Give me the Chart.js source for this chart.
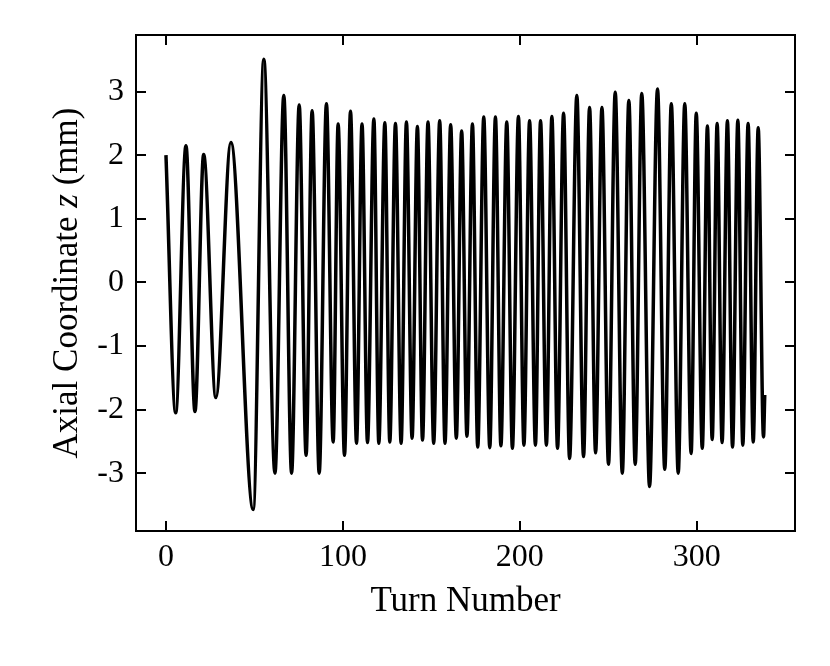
<!DOCTYPE html>
<html>
<head>
<meta charset="utf-8">
<script src="https://cdn.jsdelivr.net/npm/chart.js@4/dist/chart.umd.min.js"></script>
<style>
  html, body { margin: 0; padding: 0; background: #fff; }
</style>
</head>
<body>
<canvas id="orbit" width="830" height="666"></canvas>
<script>
// turning points of the axial oscillation: start, each peak / trough, end
const turns = [
  0, 5.5, 11.3, 16.4, 21.3, 28.2, 36.7, 49.3, 55.3, 61.6,
  66.6, 71.0, 75.3, 79.2, 82.6, 86.6, 90.7, 94.5, 97.3, 100.9,
  104.3, 107.7, 110.8, 113.9, 117.5, 120.3, 123.7, 126.5, 129.7, 132.9,
  135.9, 139.1, 142.1, 145.0, 148.1, 151.3, 154.7, 157.7, 160.9, 164.1,
  167.1, 170.1, 173.2, 176.2, 179.6, 183.0, 186.2, 189.3, 192.6, 195.8,
  199.2, 202.3, 205.5, 208.8, 211.7, 215.0, 218.1, 221.3, 224.7, 228.1,
  232.2, 236.0, 239.4, 242.8, 246.4, 250.1, 253.9, 257.9, 261.6, 265.2,
  268.9, 273.3, 277.8, 281.9, 285.6, 289.5, 293.2, 296.8, 299.7, 303.1,
  306.0, 308.7, 311.5, 314.3, 317.3, 320.2, 323.2, 326.0, 329.0, 331.9,
  334.7, 337.7, 338.4
];
const zValues = [
  2.00, -2.05, 2.15, -2.03, 2.01, -1.81, 2.20, -3.57, 3.51, -3.00,
  2.94, -3.00, 2.79, -2.72, 2.70, -3.00, 2.81, -2.51, 2.49, -2.72,
  2.69, -2.53, 2.49, -2.52, 2.57, -2.53, 2.51, -2.51, 2.50, -2.53,
  2.52, -2.45, 2.45, -2.48, 2.52, -2.53, 2.54, -2.53, 2.48, -2.45,
  2.38, -2.42, 2.49, -2.59, 2.60, -2.60, 2.60, -2.57, 2.52, -2.61,
  2.61, -2.56, 2.54, -2.56, 2.54, -2.56, 2.61, -2.61, 2.66, -2.77,
  2.94, -2.74, 2.75, -2.68, 2.75, -2.86, 2.99, -3.00, 2.86, -2.86,
  2.97, -3.21, 3.04, -2.94, 2.81, -3.00, 2.81, -2.69, 2.66, -2.61,
  2.46, -2.47, 2.50, -2.52, 2.54, -2.59, 2.55, -2.56, 2.50, -2.51,
  2.43, -2.43, -1.77
];
const xTicks = [0, 100, 200, 300];
const yTicks = [-3, -2, -1, 0, 1, 2, 3];
const xTitle = 'Turn Number';
const yTitleParts = ['Axial Coordinate ', 'z', ' (mm)'];

const serif = "'Liberation Serif', 'Times New Roman', serif";

// box with inward ticks on all four sides, plus the axis titles
const framePlugin = {
  id: 'frame',
  afterDraw(chart) {
    const { ctx, chartArea: a, scales: { x, y } } = chart;
    const tick = 10;
    ctx.save();
    ctx.strokeStyle = '#000';
    ctx.lineWidth = 2;
    ctx.strokeRect(a.left, a.top, a.right - a.left, a.bottom - a.top);

    ctx.beginPath();
    x.ticks.forEach(t => {
      const px = Math.round(x.getPixelForValue(t.value));
      ctx.moveTo(px, a.bottom); ctx.lineTo(px, a.bottom - tick);
      ctx.moveTo(px, a.top); ctx.lineTo(px, a.top + tick);
    });
    y.ticks.forEach(t => {
      const py = Math.round(y.getPixelForValue(t.value));
      ctx.moveTo(a.left, py); ctx.lineTo(a.left + tick, py);
      ctx.moveTo(a.right, py); ctx.lineTo(a.right - tick, py);
    });
    ctx.stroke();

    ctx.fillStyle = '#000';
    ctx.textBaseline = 'alphabetic';

    // x title
    ctx.font = '35px ' + serif;
    ctx.textAlign = 'center';
    ctx.fillText(xTitle, (a.left + a.right) / 2, 611);

    // y title, rotated, with italic z
    const fonts = ['35px ' + serif, 'italic 35px ' + serif, '35px ' + serif];
    const widths = yTitleParts.map((s, i) => { ctx.font = fonts[i]; return ctx.measureText(s).width; });
    const total = widths.reduce((s, w) => s + w, 0);
    ctx.translate(77, (a.top + a.bottom) / 2);
    ctx.rotate(-Math.PI / 2);
    ctx.textAlign = 'left';
    let cx = -total / 2;
    yTitleParts.forEach((s, i) => {
      ctx.font = fonts[i];
      ctx.fillText(s, cx, 0);
      cx += widths[i];
    });
    ctx.restore();
  }
};

const tickFont = { family: serif, size: 32 };

new Chart(document.getElementById('orbit'), {
  type: 'line',
  data: {
    datasets: [{
      data: turns.map((t, i) => ({ x: t, y: zValues[i] })),
      borderColor: '#000',
      borderWidth: 3.5,
      pointRadius: 0,
      fill: false,
      cubicInterpolationMode: 'monotone'
    }]
  },
  options: {
    responsive: false,
    animation: false,
    devicePixelRatio: 1,
    layout: { padding: { top: 35, right: 35, left: 0, bottom: 0 } },
    plugins: { legend: { display: false }, tooltip: { enabled: false } },
    scales: {
      x: {
        type: 'linear',
        min: -16.93,
        max: 355.5,
        grid: { display: false, drawTicks: false },
        border: { display: false },
        ticks: { font: tickFont, color: '#000', padding: 7, maxRotation: 0 },
        afterBuildTicks: s => { s.ticks = xTicks.map(v => ({ value: v })); },
        afterFit: s => { s.height = 135; }
      },
      y: {
        type: 'linear',
        min: -3.91,
        max: 3.89,
        grid: { display: false, drawTicks: false },
        border: { display: false },
        ticks: { font: tickFont, color: '#000', padding: 12 },
        afterBuildTicks: s => { s.ticks = yTicks.map(v => ({ value: v })); },
        afterFit: s => { s.width = 136; }
      }
    }
  },
  plugins: [framePlugin]
});
</script>
</body>
</html>
